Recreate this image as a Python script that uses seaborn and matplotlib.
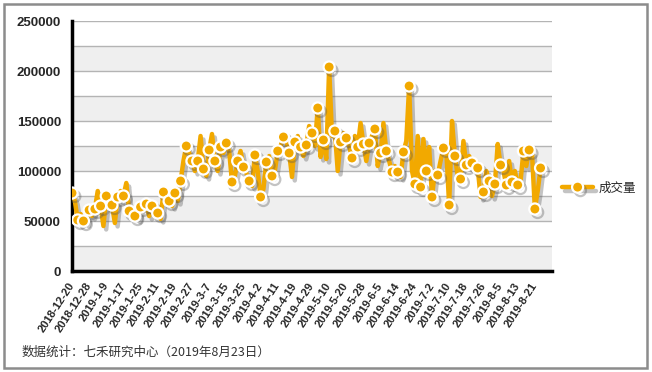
import pandas as pd
import matplotlib
matplotlib.use('Agg')
import matplotlib.pyplot as plt
import matplotlib.patheffects as pe
from matplotlib.lines import Line2D
from matplotlib.patches import Rectangle
import seaborn as sns

# 成交量 (每日), 2018-12-20 ~ 2019-8-23
volume = [78000, 70000, 51000, 57000, 50000, 48000, 61000, 55000, 62000, 80000,
          65000, 45000, 75000, 72000, 66000, 48000, 74000, 80000, 75000, 88000,
          60000, 58000, 55000, 52000, 64000, 68000, 67000, 55000, 65000, 60000,
          58000, 52000, 79000, 72000, 70000, 65000, 78000, 70000, 90000, 110000,
          125000, 118000, 110000,
          100000, 110000, 135000, 102000, 95000, 121000, 137000, 110000, 100000, 124000,
          118000, 128000, 120000, 89000, 95000, 110000, 120000, 104000, 98000, 90000,
          85000, 116000, 100000, 74000, 82000, 109000, 115000, 95000, 100000, 120000,
          125000, 134000, 130000, 118000, 94000, 129000, 135000, 124000, 115000,
          126000, 145000, 138000, 125000, 163000, 114000, 131000, 112000, 204000, 135000,
          140000, 100000, 129000, 138000, 133000, 125000, 113000, 135000, 124000, 148000,
          127000, 110000, 128000, 135000, 142000, 105000, 118000, 148000, 120000, 110000,
          99000, 105000, 99000, 94000, 119000, 130000, 185000, 100000, 87000, 135000,
          84000, 132000,
          100000, 124000, 74000, 100000, 96000, 110000, 123000, 120000, 66000, 150000,
          115000, 95000, 92000, 130000, 106000, 115000, 108000, 100000, 103000, 74000,
          79000, 100000, 90000, 75000, 87000, 127000, 106000, 100000, 86000, 110000,
          89000, 100000, 86000, 90000, 120000, 105000, 121000, 118000, 62000, 80000,
          103000]

tick_labels = ['2018-12-20', '2018-12-28', '2019-1-9', '2019-1-17', '2019-1-25',
               '2019-2-11', '2019-2-19', '2019-2-27', '2019-3-7', '2019-3-15',
               '2019-3-25', '2019-4-2', '2019-4-11', '2019-4-19', '2019-4-29',
               '2019-5-10', '2019-5-20', '2019-5-28', '2019-6-5', '2019-6-14',
               '2019-6-24', '2019-7-2', '2019-7-10', '2019-7-18', '2019-7-26',
               '2019-8-5', '2019-8-13', '2019-8-21', '']
tick_step = 6

df = pd.DataFrame({'day': range(len(volume)), '成交量': volume})

sns.set_style('white')
plt.rcParams['font.family'] = ['Liberation Sans', 'Noto Sans CJK SC', 'DejaVu Sans']

fig = plt.figure(figsize=(6.52, 3.72), dpi=100)
ax = fig.add_axes([72/652, 1-271/372, 480/652, 250/372])

orange = '#F2A900'
shadow = [pe.SimpleLineShadow(offset=(2, -2.5), shadow_color='#555555', alpha=0.35), pe.Normal()]

# 背景条纹 + 网格
for k in range(0, 250000, 50000):
    ax.axhspan(k, k + 25000, color='#EFEFEF', lw=0, zorder=0)
for k in range(25000, 250001, 25000):
    ax.axhline(k, color='#B4B4B4', lw=1, zorder=0.5)

sns.lineplot(data=df, x='day', y='成交量', ax=ax, color=orange, lw=3.2,
             marker='o', markevery=2, ms=8, mfc=orange, mec='white', mew=1.6,
             path_effects=shadow, legend=False, zorder=3)

ax.set_xlim(0, tick_step * (len(tick_labels) - 1))
ax.set_ylim(0, 250000)
ax.set_yticks(range(0, 250001, 50000))
ax.set_yticklabels([str(v) for v in range(0, 250001, 50000)], fontsize=9.5, fontweight='bold')
ax.set_xticks(range(0, tick_step * len(tick_labels), tick_step))
ax.set_xticklabels(tick_labels, rotation=57, ha='right', va='center',
                   rotation_mode='anchor', fontsize=8, fontweight='bold')
ax.set_xlabel('')
ax.set_ylabel('')

for s in ['top', 'right']:
    ax.spines[s].set_visible(False)
for s in ['left', 'bottom']:
    ax.spines[s].set_linewidth(2.5)
    ax.spines[s].set_color('black')
ax.tick_params(axis='both', direction='out', length=5, width=2.5, color='black', pad=3)
ax.tick_params(axis='x', pad=4)

# 图例
handle = Line2D([0], [0], color=orange, lw=3.2, marker='o', ms=8, mfc=orange,
                mec='white', mew=1.6, path_effects=shadow)
fig.legend([handle], ['成交量'], loc='center left', bbox_to_anchor=(562/652, 1-188/372),
           frameon=False, handlelength=2.5, handletextpad=0.4, borderpad=0, borderaxespad=0,
           prop={'family': 'Noto Sans CJK SC', 'size': 9})

fig.text(22/652, 1-352/372, '数据统计：七禾研究中心（2019年8月23日）', fontsize=9,
         color='#333333', va='center', family=['Noto Sans CJK SC', 'DejaVu Sans'])

fig.patches.append(Rectangle((4/652, 1-368/372), 643/652, 364/372, transform=fig.transFigure,
                             fill=False, edgecolor='#8C8C8C', lw=1.8))

fig.savefig('out.png', dpi=100)
